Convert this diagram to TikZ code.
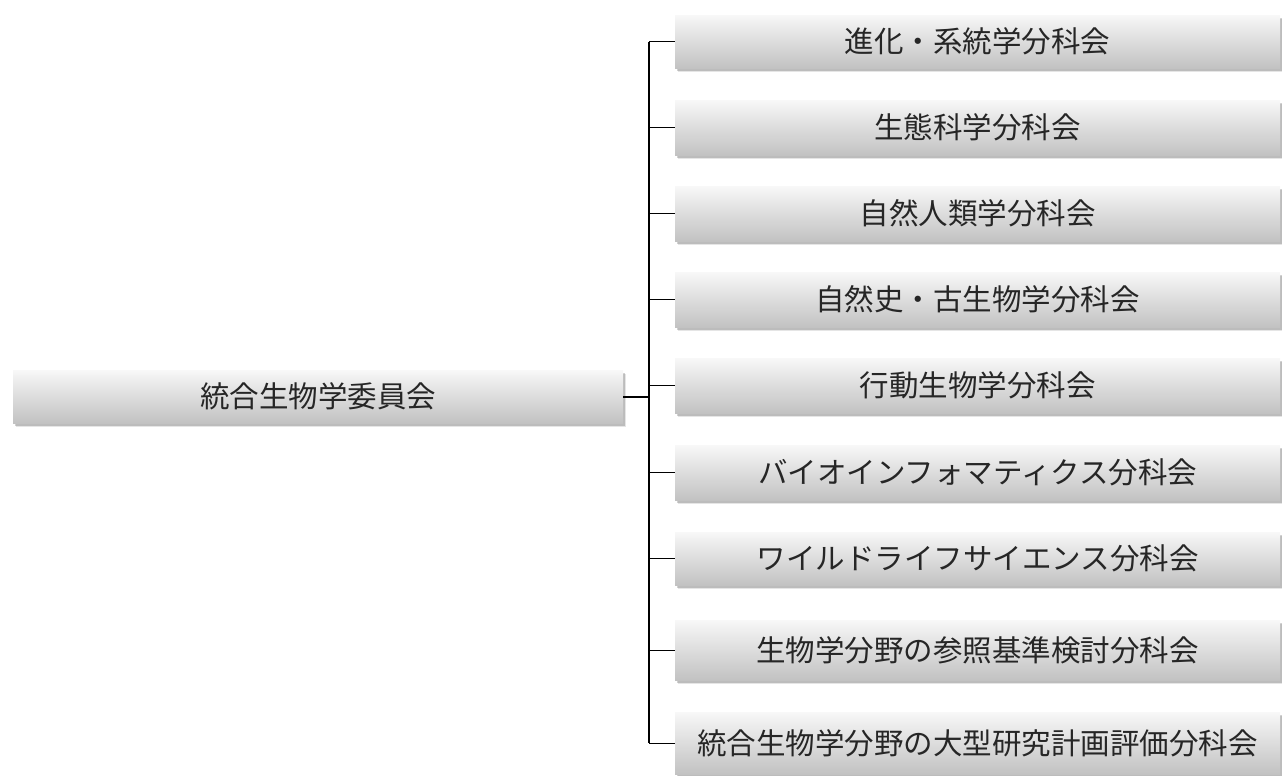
\documentclass[tikz,border=0pt]{standalone}
\usepackage{fontspec}
\newfontfamily\jp{Noto Sans CJK JP}
\usetikzlibrary{shadows,calc}
\tikzset{
  unitbox/.style={rectangle, anchor=north west, inner sep=0pt,
    top color=white!97!black, bottom color=white!76!black,
    general shadow={shadow xshift=1.5pt, shadow yshift=-2.5pt, fill=black, opacity=0.18},
    general shadow={shadow xshift=2.5pt, shadow yshift=-3.5pt, fill=black, opacity=0.10},
    font=\jp\fontsize{29.5}{31}\selectfont, text=black!85},
  subbox/.style={unitbox, minimum width=605pt},
  bus/.style={line width=1.6pt, black},
  branch/.style={line width=1.2pt, black},
  rootlink/.style={line width=2.4pt, black}
}
\begin{document}
\begin{tikzpicture}[x=1pt,y=1pt]
\useasboundingbox (0,0) rectangle (1282,-776);
\node[unitbox, minimum width=610pt, minimum height=53pt] (root) at (13,-370) {統合生物学委員会};
\node[subbox, minimum height=53pt] (b1) at (675,-15)  {進化・系統学分科会};
\node[subbox, minimum height=55pt] (b2) at (675,-100) {生態科学分科会};
\node[subbox, minimum height=55pt] (b3) at (675,-186) {自然人類学分科会};
\node[subbox, minimum height=55pt] (b4) at (675,-272) {自然史・古生物学分科会};
\node[subbox, minimum height=55pt] (b5) at (675,-358) {行動生物学分科会};
\node[subbox, minimum height=55pt] (b6) at (675,-445) {バイオインフォマティクス分科会};
\node[subbox, minimum height=53pt] (b7) at (675,-532) {ワイルドライフサイエンス分科会};
\node[subbox, minimum height=60pt] (b8) at (675,-620) {生物学分野の参照基準検討分科会};
\node[subbox, minimum height=62pt] (b9) at (675,-712) {統合生物学分野の大型研究計画評価分科会};
\coordinate (busx) at (649,0);
\draw[bus] (b1.west -| busx) -- (b9.west -| busx);
\draw[rootlink] (root.east) -- (root.east -| busx);
\foreach \b in {b1,b2,b3,b4,b5,b6,b7,b8,b9}
  \draw[branch] (\b.west -| busx) -- (\b.west);
\end{tikzpicture}
\end{document}
